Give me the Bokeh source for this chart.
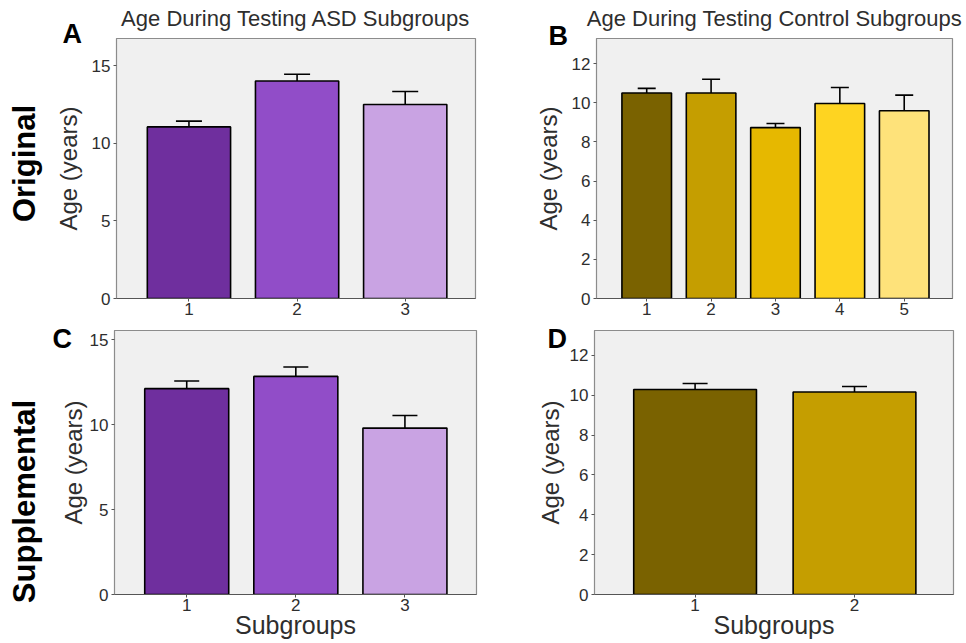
from bokeh.plotting import figure
from bokeh.models import (ColumnDataSource, Whisker, TeeHead, Label, FixedTicker, Range1d, Title)
from bokeh.layouts import row, column
from bokeh.embed import file_html
from bokeh.resources import INLINE

# ---------------- data ----------------
asd_subgroups = ["1", "2", "3"]
ctrl_orig_subgroups = ["1", "2", "3", "4", "5"]
ctrl_supp_subgroups = ["1", "2"]

asd_orig_mean = [11.05, 14.0, 12.49]
asd_orig_sem = [0.37, 0.44, 0.84]
ctrl_orig_mean = [10.5, 10.5, 8.73, 9.96, 9.59]
ctrl_orig_sem = [0.23, 0.70, 0.21, 0.82, 0.80]
asd_supp_mean = [12.11, 12.83, 9.79]
asd_supp_sem = [0.45, 0.55, 0.74]
ctrl_supp_mean = [10.29, 10.16]
ctrl_supp_sem = [0.30, 0.28]

asd_ticks = [0, 5, 10, 15]
ctrl_ticks = [0, 2, 4, 6, 8, 10, 12]

title_asd = "Age During Testing ASD Subgroups"
title_ctrl = "Age During Testing Control Subgroups"
y_label = "Age (years)"
x_label = "Subgroups"
row_labels = ["Original", "Supplemental"]
panel_letters = ["A", "B", "C", "D"]

purple = ["#6f2f9e", "#914dc8", "#c9a3e3"]
gold = ["#7a6200", "#c59e00", "#e6b800", "#fed421", "#fee27a"]

FONT = "Liberation Sans"
TXT = "#2e2e2e"

STRIP = 46
W_L, W_R = 483 - STRIP, 483
H_T, H_B = 322, 321


def style_axis(ax):
    ax.major_label_text_font = FONT
    ax.major_label_text_font_size = "17px"
    ax.major_label_text_color = TXT
    ax.minor_tick_line_color = None
    ax.major_tick_in = 0
    ax.major_tick_out = 3
    ax.major_tick_line_color = "#555555"
    ax.axis_label_text_font = FONT
    ax.axis_label_text_font_style = "normal"
    ax.axis_label_text_color = TXT
    ax.axis_label_text_font_size = "24px"


def panel(W, H, frame, xr, yr, yticks, cats, means, sems, colors, cap, ylab_standoff):
    l, t, r, b = frame
    p = figure(width=W, height=H, x_range=Range1d(*xr), y_range=Range1d(*yr),
               output_backend="svg", toolbar_location=None,
               min_border_left=l, min_border_right=W - r,
               min_border_top=t, min_border_bottom=H - b,
               background_fill_color="#f0f0f0", border_fill_color="white",
               outline_line_color="#8c8c8c", outline_line_width=1.2)
    p.title = None
    xs = list(range(1, len(cats) + 1))
    src = ColumnDataSource(dict(x=xs, top=means,
                                upper=[m + s for m, s in zip(means, sems)],
                                color=colors[:len(cats)]))
    p.vbar(x="x", top="top", bottom=0, width=0.77, fill_color="color",
           line_color="black", line_width=1.6, source=src)
    p.add_layout(Whisker(source=src, base="x", lower="top", upper="upper",
                         line_color="black", line_width=1.6,
                         upper_head=TeeHead(size=cap, line_color="black", line_width=1.6),
                         lower_head=None))
    p.xgrid.visible = False
    p.ygrid.visible = False
    p.xaxis.ticker = FixedTicker(ticks=xs)
    p.xaxis.major_label_overrides = {x: c for x, c in zip(xs, cats)}
    p.yaxis.ticker = FixedTicker(ticks=yticks)
    style_axis(p.xaxis[0])
    style_axis(p.yaxis[0])
    p.xaxis.major_label_standoff = 1
    p.yaxis.major_label_standoff = 3
    p.xaxis.axis_line_color = "#555555"
    p.yaxis.axis_line_color = "#8c8c8c"
    p.yaxis.axis_label = y_label
    p.yaxis.axis_label_standoff = ylab_standoff
    return p


def add_letter(p, letter, offset, standoff):
    p.add_layout(Title(text=letter, align="left", offset=offset,
                       vertical_align="bottom", standoff=standoff,
                       text_font=FONT, text_font_size="27px", text_font_style="bold",
                       text_color="black"), "above")


def add_title(p, title, standoff):
    p.add_layout(Title(text=title, align="center", vertical_align="bottom",
                       standoff=standoff, text_font=FONT, text_font_size="22px",
                       text_font_style="normal", text_color=TXT), "above")


# ---- panel A ----
pA = panel(W_L, H_T, (70, 38, 429, 298), (0.33, 3.65), (0, 16.74), asd_ticks,
           asd_subgroups, asd_orig_mean, asd_orig_sem, purple, 26, 7)
add_letter(pA, panel_letters[0], -54, -20)
add_title(pA, title_asd, -8)

# ---- panel B ----
pB = panel(W_R, H_T, (113, 38, 469, 298), (0.22, 5.75), (0, 13.28), ctrl_ticks,
           ctrl_orig_subgroups, ctrl_orig_mean, ctrl_orig_sem, gold, 18, 7)
add_letter(pB, panel_letters[1], -48, -25)
add_title(pB, title_ctrl, 2)

# ---- panel C ----
pC = panel(W_L, H_B, (68, 8, 430, 272), (0.338, 3.656), (0, 15.53), asd_ticks,
           asd_subgroups, asd_supp_mean, asd_supp_sem, purple, 25, 0)
add_letter(pC, panel_letters[2], -62, -46)
pC.xaxis.axis_label = x_label
pC.xaxis.axis_label_text_font_size = "25px"
pC.xaxis.axis_label_standoff = -3

# ---- panel D ----
pD = panel(W_R, H_B, (111, 8, 470, 272), (0.369, 2.621), (0, 13.25), ctrl_ticks,
           ctrl_supp_subgroups, ctrl_supp_mean, ctrl_supp_sem, gold, 25, 3)
add_letter(pD, panel_letters[3], -47, -46)
pD.xaxis.axis_label = x_label
pD.xaxis.axis_label_text_font_size = "25px"
pD.xaxis.axis_label_standoff = -3

# ---- left strip with row labels ----
H_ALL = H_T + H_B
strip = figure(width=STRIP, height=H_ALL, x_range=Range1d(0, STRIP), y_range=Range1d(H_ALL, 0),
               x_axis_type=None, y_axis_type=None, min_border=0, output_backend="svg",
               toolbar_location=None, outline_line_color=None,
               background_fill_color="white", border_fill_color="white")
strip.title = None
strip.xgrid.visible = False
strip.ygrid.visible = False
for txt, yc in zip(row_labels, [163, 501]):
    strip.add_layout(Label(x=24, y=yc, text=txt, text_font=FONT, text_font_size="31px",
                           text_font_style="bold", text_color="black", text_align="center",
                           text_baseline="middle", angle=1.5707963))

layout = row(strip, column(row(pA, pB), row(pC, pD)))
open("out.html", "w").write(file_html(layout, INLINE))
